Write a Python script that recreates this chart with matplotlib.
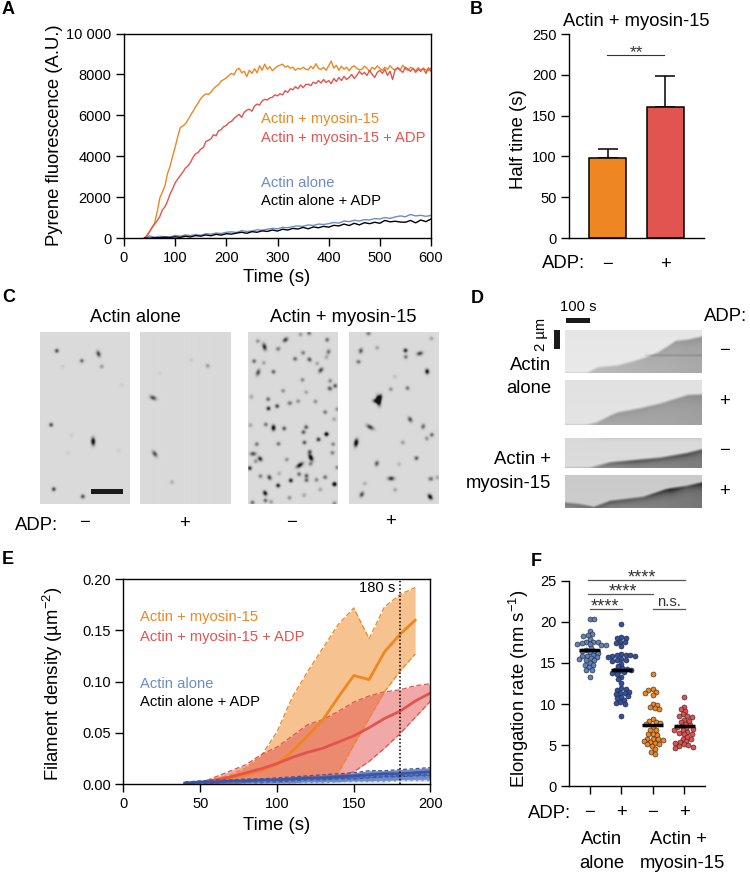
import numpy as np
import matplotlib
matplotlib.use("Agg")
import matplotlib.pyplot as plt
from matplotlib.patches import Rectangle

plt.rcParams['font.family'] = ['Liberation Sans', 'DejaVu Sans']
plt.rcParams['mathtext.default'] = 'regular'

W, H = 750, 875
ORANGE, RED, LBLUE, DBLUE = '#EE8722', '#E2544F', '#6C8CC8', '#3A56A6'
TICK, LAB, LEG = 10.5, 13.3, 10.6

# ---------- Panel A ----------
a_time = list(range(40, 601, 5))
a_orange = [0,150,330,520,740,1300,1950,2250,2550,3150,3500,4000,4450,4950,5400,5480,5580,5780,6000,6200,
 6420,6600,6820,6950,7050,7020,7130,7300,7420,7500,7680,7750,7830,7950,8050,7980,8230,8300,8080,8150,
 7900,8200,8050,8280,8080,8420,8200,8500,8250,8380,8180,8300,8400,8450,8500,8350,8420,8300,8350,8200,
 8300,8250,8350,8260,8220,8400,8280,8520,8300,8240,8350,8200,8420,8650,8300,8450,8200,8400,8250,8350,
 8180,8350,8420,8300,8220,8250,8400,8300,8130,8350,8250,8420,8300,8200,8350,8250,8420,8280,8200,8350,
 8230,8450,8280,8200,8350,8280,8180,8330,8200,8300,8220,8180,8300]
a_red = [0,100,300,520,680,850,1050,1380,1520,1800,2150,2400,2700,2880,3050,3220,3420,3520,3700,3950,
 4120,4180,4350,4420,4720,4780,4850,5050,5000,5250,5300,5450,5500,5650,5700,5850,5950,6050,5900,6150,
 6250,6300,6200,6450,6550,6500,6700,6780,6750,6850,6880,7000,6950,7050,7000,7200,7120,7300,7250,7400,
 7300,7480,7350,7500,7520,7450,7620,7550,7700,7580,7750,7600,7700,7550,7800,7650,7850,7700,7900,7750,
 7850,8000,7800,7950,8150,8000,8100,7950,8200,8000,7850,8100,8200,8050,8250,7950,8150,7750,8250,8300,
 8200,8100,8350,8250,8150,8300,8100,8250,8150,8300,8050,8320,8150]
a_time10 = list(range(40, 601, 10))
a_blue = [0,100,30,80,60,50,130,90,150,120,170,130,210,190,240,220,280,300,270,360,320,340,400,380,430,
 470,450,520,500,560,590,570,640,610,680,660,700,760,730,830,800,870,830,900,880,950,930,1000,960,1030,
 1080,1040,1150,1080,1110,1060,1100]
a_black = [0,-10,20,10,40,20,60,30,90,50,120,90,150,110,180,140,210,190,240,280,230,310,280,350,320,
 390,340,430,390,470,440,520,450,540,500,570,530,620,590,680,610,720,640,750,700,770,720,860,790,820,
 780,770,860,740,880,800,930]

# ---------- Panel B ----------
b_labels = ['−', '+']
b_means = [98, 161]
b_err = [11.5, 37]

# ---------- Panel E ----------
e_time = [40,50,60,70,80,90,100,110,120,130,140,150,160,170,180,190,200]
e_or_mean = [0,.001,.003,.006,.009,.013,.019,.032,.047,.063,.085,.106,.102,.129,.146,.160]
e_or_up = [0,.002,.005,.009,.016,.028,.051,.085,.110,.133,.156,.172,.142,.173,.185,.192]
e_or_lo = [0,0,0,.001,.002,.003,.004,.005,.007,.009,.011,.038,.064,.090,.110,.127]
e_re_mean = [0,.001,.004,.007,.011,.015,.020,.026,.031,.035,.041,.047,.055,.064,.071,.081,.089]
e_re_up = [0,.001,.007,.013,.019,.029,.036,.047,.058,.063,.071,.080,.086,.090,.092,.096,.098]
e_re_lo = [0,0,0,.0005,.001,.001,.002,.003,.004,.005,.007,.012,.022,.035,.049,.065,.081]
e_bl_mean = [.001,.002,.002,.003,.003,.004,.004,.005,.006,.006,.007,.008,.009,.010,.010,.011,.012]
e_bl_up = [.002,.003,.004,.004,.005,.005,.006,.007,.008,.009,.010,.011,.013,.013,.014,.015,.016]
e_bl_lo = [.0005,.001,.001,.002,.002,.002,.002,.003,.004,.004,.005,.005,.006,.007,.007,.008,.008]
e_lb_mean = [.0005,.001,.001,.001,.002,.002,.002,.002,.003,.003,.003,.004,.004,.005,.005,.006,.006]
e_lb_up = [.001,.002,.002,.002,.003,.003,.004,.004,.005,.005,.006,.007,.007,.008,.008,.009,.010]
e_lb_lo = [0,0,.0005,.0005,.001,.001,.001,.001,.001,.001,.002,.002,.002,.002,.003,.003,.003]

# ---------- Panel F ----------
f_labels = ['−', '+', '−', '+']
f_a = [20.4,20.3,18.9,18.5,18.4,18.3,17.9,17.6,17.6,17.5,17.4,17.3,17.3,17.2,17.2,16.8,16.6,16.5,16.4,16.3,
       16.2,16.0,15.9,15.8,15.7,15.6,15.5,15.4,15.3,15.0,14.8,14.7,14.5,14.2,14.1,13.3]
f_b = [19.7,18.1,18.0,18.0,17.6,17.5,17.4,17.0,16.1,16.0,16.0,16.0,15.9,15.8,15.7,15.5,15.4,15.4,15.2,14.9,
       14.6,14.4,14.3,14.2,14.1,14.0,13.9,13.8,13.6,13.3,13.0,12.6,11.9,11.8,11.7,11.5,11.4,11.3,11.2,11.0,
       10.9,10.7,10.5,10.2,10.1,10.0,8.6]
f_c = [13.7,11.8,11.7,11.5,11.4,11.1,10.0,9.9,9.6,9.5,9.4,8.2,7.9,7.8,7.7,7.6,7.2,6.9,6.8,6.4,6.3,6.2,5.8,5.8,
       5.7,5.6,5.5,5.4,5.3,5.2,5.1,4.9,4.5,4.2,3.9]
f_d = [10.8,9.7,9.4,9.2,8.8,8.6,8.5,8.4,8.1,7.9,7.8,7.6,7.4,7.3,7.2,7.1,7.0,6.9,6.8,6.6,6.5,6.4,6.3,6.0,5.8,
       5.7,5.5,5.4,5.3,5.1,5.0,4.9,4.8,4.7]
f_means = [16.6, 14.1, 7.5, 7.3]

# ---------- Panel C spots: x, y (3x picture coordinates), length, angle, strength ----------
c1_spots = [(170,183,1.3,0,.75),(295,192,2.4,70,.8),(245,213,1.2,0,.6),(305,230,1,0,.35),(188,230,.9,0,.1),
 (153,405,1.1,0,.75),(279,455,3,88,1.2),(161,598,1.4,0,.8),(248,620,1.2,0,.75),(215,437,.9,0,.08),
 (365,285,.9,0,.08),(355,483,.9,0,.08),(203,490,.9,0,.08)]
c2_spots = [(457,324,2.6,25,.8),(462,492,2.6,55,.75),(619,228,1,0,.35),(513,577,1,0,.25),(570,210,.9,0,.1),(478,250,.9,0,.08)]
c3_spots = [(58,50,2.8,75,.95),(121,29,2.2,-40,.85),(99,56,1.8,-25,.5),(38,33,1,0,.4),(166,13,1,0,.35),(192,9,1,0,.6),
 (27,93,1.6,0,.6),(56,98,1,0,.3),(39,127,2.6,-70,.75),(85,125,1.4,-10,.65),(150,86,1.6,0,.6),(174,68,1,0,.5),
 (193,88,1.8,50,.7),(246,29,1.3,0,.6),(250,65,2,-70,.55),(244,81,1.2,0,.3),(227,120,2.2,-50,.8),(216,100,1,0,.3),
 (172,149,1.3,0,.45),(255,152,1,0,.45),(270,167,1.5,0,.7),(254,175,1.8,30,.7),(114,182,1.3,0,.4),(183,186,1,0,.3),
 (19,200,1,0,.3),(69,207,1.1,0,.6),(211,214,1.2,0,.4),(134,219,1.8,-10,.55),(159,213,1,0,.4),(96,228,1.4,0,.8),
 (70,235,1.2,0,.95),(240,246,1.2,0,.55),(276,237,1,0,.4),(267,267,1,0,.3),(16,285,1.5,0,.3),(62,283,1.3,0,.55),
 (85,293,2.2,90,1.2),(117,295,1.3,0,.7),(183,291,1.2,0,.7),(175,306,1.1,0,.7),(244,312,1.5,0,1.3),(220,328,1.3,0,.9),
 (178,337,1.6,0,.7),(100,341,1.6,0,.55),(35,342,1.3,0,.55),(264,342,1.1,0,.45),(262,368,1.2,0,.5),(24,371,2.4,0,.75),
 (45,386,2,50,.95),(32,393,1,0,.4),(194,365,1,0,.7),(197,382,2.8,65,1.3),(196,401,1.5,0,.5),(164,405,3,-35,1.1),
 (125,388,1,0,.4),(14,414,1.3,0,.95),(276,412,1,0,.45),(162,432,1.3,0,.6),(184,437,1.1,0,.7),(184,450,1.3,90,.65),
 (240,441,1.3,0,.6),(214,449,1,0,.45),(46,438,1.2,0,.5),(73,442,2,60,.8),(102,430,.9,0,.25),(137,451,1.3,0,1),
 (99,466,1.2,0,1),(268,462,1.6,0,1.4),(60,489,2,60,1.1),(133,503,1.2,0,.4),(177,495,1,0,.3),(225,478,1,0,.3),
 (61,511,1.3,0,.6),(22,517,1.2,0,.6),(78,515,1,0,.35),(268,520,1,0,.5)]
c4_spots = [(370,10,1.8,0,.5),(347,62,2,-75,.7),(396,53,1,0,.3),(481,61,1.6,0,.95),(482,80,1.2,0,.55),(524,70,2.4,-15,.8),
 (340,95,1.7,10,.55),(559,25,1,0,.3),(546,124,2,85,1.1),(487,174,1.2,0,.55),(437,177,1,0,.4),(449,140,.9,0,.15),
 (400,212,3.5,80,1.6),(394,212,2.5,0,1.2),(404,203,2.5,-70,1.3),(495,268,2.2,60,.75),(375,291,3,30,.85),(534,289,2,-75,.6),
 (560,314,1.1,0,.6),(545,325,1,0,.4),(333,338,3,-80,1.3),(473,337,1,0,.35),(514,384,1.3,0,.7),(395,400,2,-70,.7),
 (462,402,1,0,.2),(438,445,2.5,0,.9),(557,446,1.8,0,.6),(577,442,1,0,.3),(359,460,1,0,.25),(450,479,1,0,.3),
 (350,493,2.2,-60,.75),(555,500,2.2,55,1.2)]

# ---------- Panel D: growth-front profiles ----------
k1_x = [0,.16,.24,.38,.50,.58,.68,.75,.81,.90,1]
k1_h = [0,0,.13,.17,.27,.35,.48,.62,.75,.78,.85]
k1_tip = [.0,.0,.01,.02,.02,.03,.04,.05,.07,.08,.08]
k2_x = [0,.16,.23,.34,.39,.55,.70,.90,1]
k2_h = [0,0,.05,.22,.28,.37,.48,.67,.68]
k2_tip = [0,0,.04,.07,.08,.07,.05,.07,.09]
k3_x = [0,.18,.33,.52,.70,.89,1]
k3_h = [0,0,.18,.26,.34,.49,.62]
k3_tip = [0,.05,.25,.36,.26,.3,.22]
k4_x = [0,.11,.21,.33,.57,.74,.77,.89,1]
k4_h = [.15,.10,.02,.2,.32,.55,.57,.65,.75]
k4_tip = [.2,.2,.25,.3,.22,.45,.55,.22,.42]


def axpx(x0, y0, x1, y1, **kw):
    return fig.add_axes([x0/W, 1-y1/H, (x1-x0)/W, (y1-y0)/H], **kw)


def T(x, y, s, size=LAB, ha='center', va='center', **kw):
    return fig.text(x/W, 1-y/H, s, fontsize=size, ha=ha, va=va, **kw)


def style(ax, spines=('left', 'bottom')):
    for k, sp in ax.spines.items():
        sp.set_visible(k in spines)
        sp.set_linewidth(1.0)
    ax.tick_params(width=1.0, length=5.8, labelsize=TICK, pad=3.2)


def label_at(ax, xl, yl, xpos, ypos):
    ax.set_xlabel(xl, fontsize=LAB)
    ax.set_ylabel(yl, fontsize=LAB)
    ax.xaxis.set_label_coords(xpos[0]/W, 1-xpos[1]/H, transform=fig.transFigure)
    ax.yaxis.set_label_coords(ypos[0]/W, 1-ypos[1]/H, transform=fig.transFigure)


fig = plt.figure(figsize=(W/100, H/100), dpi=100)

for s, x, y in [('A', 2, 9), ('B', 470, 9), ('C', 2, 298), ('D', 471, 299), ('E', 2, 560), ('F', 531, 561)]:
    T(x, y, s, size=13, ha='left', fontweight='bold')

# A
ax = axpx(124, 33.5, 431, 238)
style(ax, ('left', 'bottom', 'top', 'right'))
ax.plot(a_time, a_orange, color=ORANGE, lw=1.0)
ax.plot(a_time, a_red, color=RED, lw=1.0)
ax.plot(a_time10, a_blue, color=LBLUE, lw=1.0)
ax.plot(a_time10, a_black, color='black', lw=1.0)
ax.set_xlim(0, 600); ax.set_ylim(0, 10000)
ax.set_xticks(range(0, 601, 100))
ax.set_yticks(range(0, 10001, 2000))
ax.set_yticklabels(['0', '2000', '4000', '6000', '8000', '10 000'])
label_at(ax, 'Time (s)', 'Pyrene fluorescence (A.U.)', (277, 269), (63, 135))
for s, y, c in [('Actin + myosin-15', 119, ORANGE), ('Actin + myosin-15 + ADP', 138, RED),
                ('Actin alone', 183, LBLUE), ('Actin alone + ADP', 201, 'black')]:
    T(261, y, s, size=LEG, ha='left', color=c)

# B
ax = axpx(569, 34, 704, 238)
style(ax)
xb = np.arange(2)
ax.bar(xb, b_means, width=.645, color=[ORANGE, RED], edgecolor='black', linewidth=1.1, zorder=2)
ax.errorbar(xb, b_means, yerr=[[0, 0], b_err], fmt='none', ecolor='black', elinewidth=1.1, capsize=7.5, capthick=1.1, zorder=1)
ax.set_xlim(-.664, 1.664); ax.set_ylim(0, 250)
ax.set_yticks(range(0, 251, 50))
ax.set_xticks(xb); ax.set_xticklabels(b_labels, fontsize=LAB)
ax.tick_params(axis='x', length=0, pad=13)
ax.set_ylabel('Half time (s)', fontsize=LAB)
ax.yaxis.set_label_coords(527/W, 1-139/H, transform=fig.transFigure)
ax.set_title('Actin + myosin-15', fontsize=13.2, x=.5, y=1, pad=6)
ax.plot([-.01, .97], [224, 224], color='#333333', lw=.8, clip_on=False)
ax.text(.5, 226.7, '**', ha='center', va='center', fontsize=12.5, color='#333333')
T(564, 264, 'ADP:')


# C
def spot_image(spots, ox, oy, w, h, bg=.855, sc=3):
    yy, xx = np.mgrid[0:h*sc, 0:w*sc]
    xx = xx/sc; yy = yy/sc
    im = np.full(xx.shape, bg)
    for x, y, ln, ang, amp in spots:
        px = x/3-ox; py = y/3-oy
        th = np.deg2rad(ang)
        dx = xx-px; dy = yy-py
        u = dx*np.cos(th)+dy*np.sin(th)
        v = -dx*np.sin(th)+dy*np.cos(th)
        im -= amp*.74*np.exp(-.5*((u/max(ln*.9, 1.4))**2+(v/1.4)**2))
    return np.clip(im, .08, 1)


panels = [(40, 130, c1_spots, 40, 42.33), (139.5, 230, c2_spots, 139.5, 42.33),
          (248, 338, c3_spots, 3, 2), (349, 439, c4_spots, 104, 2)]
for x0, x1, spots, ox, oy in panels:
    ax = axpx(x0, 332, x1, 503.7)
    ax.imshow(spot_image(spots, ox, oy, int(x1-x0), 172), cmap='gray', vmin=0, vmax=1,
              extent=(0, x1-x0, 171.7, 0), aspect='auto', interpolation='bilinear')
    ax.axis('off')
    if x0 == 40:
        ax.add_patch(Rectangle((51, 156.7), 32, 5.3, color='#1a1a1a', lw=0))
T(135, 317, 'Actin alone', size=13.2)
T(343, 317, 'Actin + myosin-15', size=13.2)
T(37, 525, 'ADP:')
for x, s, y in [(84, '−', 523), (184, '+', 523), (291, '−', 523), (391, '+', 521)]:
    T(x, y, s)


# D
def kymo(xs, hs, tips, h, bg, d0, d1, tipw, streak=None, top=0.0, sc=2):
    w = 137
    xg = np.linspace(0, 1, w*sc)
    yg = np.linspace(1, 0, h*sc)
    he = np.interp(xg, xs, hs)
    tip = np.interp(xg, xs, tips)
    X, Y = np.meshgrid(xg, yg)
    HE = np.tile(he, (len(yg), 1))
    TP = np.tile(tip, (len(yg), 1))
    depth = HE-Y
    inside = np.clip(depth*h/3.0+.5, 0, 1)
    body = d0+d1*X
    im = bg+.012*(1-Y)-inside*(body+TP*np.exp(-np.clip(depth, 0, None)*h/tipw))
    if streak is not None:
        hgt, xs0, amp = streak
        im -= amp*(X > xs0)*np.exp(-.5*((Y-hgt)*h/.7)**2)
    if top:
        im -= top*np.exp(-.5*((1-Y)*h/1.5)**2)*np.clip((X-.15)*6, 0, 1)
    return np.clip(im, .05, 1)


kys = [(330, 373, k1_x, k1_h, k1_tip, .90, .15, .10, 8, (.41, .58, .10), 0),
       (380, 425, k2_x, k2_h, k2_tip, .88, .19, .07, 8, None, 0),
       (438, 467.7, k3_x, k3_h, k3_tip, .85, .2, .17, 3.5, None, .05),
       (475, 508.3, k4_x, k4_h, k4_tip, .79, .2, .14, 3.5, None, 0)]
for y0, y1, xs, hs, tips, bg, d0, d1, tw, st, top in kys:
    ax = axpx(565.3, y0, 702.3, y1)
    ax.imshow(kymo(xs, hs, tips, int(y1-y0), bg, d0, d1, tw, st, top), cmap='gray', vmin=0, vmax=1,
              aspect='auto', interpolation='bilinear')
    ax.axis('off')
fig.add_artist(Rectangle((566/W, 1-323/H), 24/W, 5.5/H, color='#1a1a1a', lw=0, transform=fig.transFigure))
fig.add_artist(Rectangle((553.7/W, 1-349/H), 5.8/W, 19/H, color='#1a1a1a', lw=0, transform=fig.transFigure))
T(578, 307, '100 s', size=LEG)
T(541, 334, '2 µm', size=LEG, rotation=90)
T(551, 365, 'Actin', ha='right')
T(551, 388, 'alone', ha='right')
T(551, 460, 'Actin +', ha='right')
T(551, 483, 'myosin-15', ha='right')
T(726, 316, 'ADP:')
for y, s in [(351, '−'), (402, '+'), (451, '−'), (492, '+')]:
    T(724, y, s)

# E
ax = axpx(123.5, 579.3, 430.5, 784)
style(ax, ('left', 'bottom', 'top', 'right'))
t16 = e_time[:16]
ax.fill_between(t16, e_or_lo, e_or_up, color=ORANGE, alpha=.5, lw=0)
ax.plot(t16, e_or_up, color=ORANGE, lw=.9, ls=(0, (4, 2)))
ax.plot(t16, e_or_lo, color=ORANGE, lw=.9, ls=(0, (4, 2)))
ax.fill_between(e_time, e_re_lo, e_re_up, color=RED, alpha=.5, lw=0)
ax.plot(e_time, e_re_up, color=RED, lw=.9, ls=(0, (4, 2)))
ax.plot(e_time, e_re_lo, color=RED, lw=.9, ls=(0, (4, 2)))
ax.plot(t16, e_or_mean, color=ORANGE, lw=2)
ax.plot(e_time, e_re_mean, color=RED, lw=2)
ax.fill_between(e_time, e_lb_lo, e_lb_up, color=LBLUE, alpha=.85, lw=0)
ax.plot(e_time, e_lb_lo, color='white', lw=.8, ls=(0, (3, 2)))
ax.plot(e_time, e_lb_up, color=DBLUE, lw=.8, ls=(0, (3, 2)))
ax.plot(e_time, e_lb_mean, color=LBLUE, lw=2)
ax.fill_between(e_time, e_bl_lo, e_bl_up, color=DBLUE, alpha=.7, lw=0)
ax.plot(e_time, e_bl_up, color=DBLUE, lw=.9, ls=(0, (3, 2)))
ax.plot(e_time, e_bl_lo, color=DBLUE, lw=.9, ls=(0, (3, 2)))
ax.plot(e_time, e_bl_mean, color=DBLUE, lw=2)
ax.axvline(180, color='black', lw=1.1, ls=(0, (1, 1.4)))
ax.set_xlim(0, 200); ax.set_ylim(0, .2)
ax.set_xticks(range(0, 201, 50))
ax.set_yticks([0, .05, .1, .15, .2])
ax.set_yticklabels(['0.00', '0.05', '0.10', '0.15', '0.20'])
label_at(ax, 'Time (s)', 'Filament density (µm$^{-2}$)', (277, 817), (65, 684))
ax.text(177, .1915, '180 s', ha='right', va='center', fontsize=LEG)
for s, y, c in [('Actin + myosin-15', 617, ORANGE), ('Actin + myosin-15 + ADP', 637, RED),
                ('Actin alone', 684, LBLUE), ('Actin alone + ADP', 702, 'black')]:
    T(140, y, s, size=LEG, ha='left', color=c)

# F
ax = axpx(569, 580.7, 705, 786.3)
style(ax)
ax.set_xlim(-.655, 3.65); ax.set_ylim(0, 25)
px_x = 136/4.305; px_y = 205.6/25


def swarm(vals, d=4.2):
    placed = []; offs = []
    vs = sorted(vals, reverse=True)
    for v in vs:
        best = None
        for k in range(0, 40):
            for sgn in ((1, -1) if len(placed) % 2 else (-1, 1)):
                o = sgn*k*.9
                if all((o-p[0])**2+((v-p[1])*px_y)**2 >= d*d for p in placed):
                    best = o; break
            if best is not None:
                break
        placed.append((best, v)); offs.append(best/px_x)
    return np.array(offs), np.array(vs)


for i, (vals, c) in enumerate([(f_a, '#5E82BD'), (f_b, '#2F50A3'), (f_c, ORANGE), (f_d, '#E5504F')]):
    o, v = swarm(vals)
    ax.scatter(i+o, v, s=13, color=c, edgecolor='#222222', linewidth=.4, zorder=3, clip_on=False)
    ax.plot([i-.33, i+.33], [f_means[i]]*2, color='black', lw=2.5, zorder=4, solid_capstyle='butt')
ax.set_xticks(range(4)); ax.set_xticklabels(f_labels, fontsize=LAB)
ax.tick_params(axis='x', pad=7)
ax.set_yticks(range(0, 26, 5))
ax.set_ylabel('Elongation rate (nm s$^{-1}$)', fontsize=LAB)
ax.yaxis.set_label_coords(531/W, 1-689/H, transform=fig.transFigure)
for x0, x1, y in [(-.05, 3.03, 25.1), (-.05, 2, 23.35), (0, 1.02, 21.6), (2, 3.03, 21.6)]:
    ax.plot([x0, x1], [y, y], color='#555555', lw=.9, clip_on=False)
for x, y, s in [(1.65, 25.3, '****'), (1.05, 23.6, '****'), (.48, 21.8, '****')]:
    ax.text(x, y, s, ha='center', va='center', fontsize=13, color='#333333')
ax.text(2.5, 22.4, 'n.s.', ha='center', va='center', fontsize=LEG, color='#333333')
T(550, 813, 'ADP:')
T(602, 840, 'Actin'); T(602, 863, 'alone')
T(679, 840, 'Actin +'); T(682, 863, 'myosin-15')

fig.savefig('out.png', dpi=100)
